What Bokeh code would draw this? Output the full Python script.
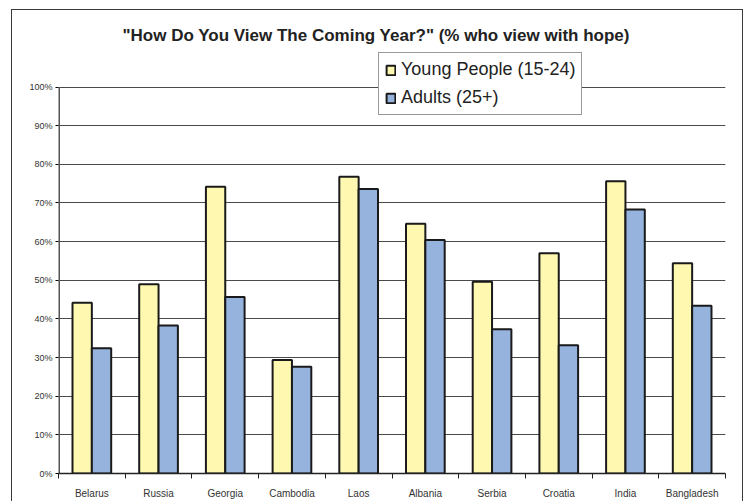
from bokeh.plotting import figure
from bokeh.models import (ColumnDataSource, Range1d, FixedTicker, NumeralTickFormatter,
                          Legend, LegendItem, InlineStyleSheet)
from bokeh.embed import file_html
from bokeh.resources import INLINE
import numpy as np

countries = ["Belarus", "Russia", "Georgia", "Cambodia", "Laos",
             "Albania", "Serbia", "Croatia", "India", "Bangladesh"]
young = [0.442, 0.490, 0.742, 0.294, 0.768, 0.646, 0.496, 0.570, 0.756, 0.544]
adults = [0.324, 0.383, 0.457, 0.276, 0.736, 0.604, 0.373, 0.332, 0.683, 0.434]
y_ticks = [0.0, 0.1, 0.2, 0.3, 0.4, 0.5, 0.6, 0.7, 0.8, 0.9, 1.0]
title_text = '"How Do You View The Coming Year?" (% who view with hope)'
young_label = "Young People (15-24)"
adult_label = "Adults (25+)"

FONT = "Liberation Sans"
W, H = 746, 501
# plot frame in page pixels; the frame runs a little above 100% so the legend fits inside
LEFT, RIGHT, TOP, BOTTOM = 58, 725, 50, 478
PX_PER_UNIT = 391.0          # height of 0..100% in pixels
y_top = (BOTTOM - TOP) / PX_PER_UNIT

centers = np.arange(len(countries)) + 0.5
edges = np.arange(len(countries) + 1).astype(float)

src = ColumnDataSource(dict(
    xy=centers - 0.145, xa=centers + 0.145, young=young, adults=adults,
))

# outer chart border drawn around the whole chart area
border_css = InlineStyleSheet(css="""
:host { position: relative; }
:host::after {
  content: ""; position: absolute; left: 11px; top: 9px; right: 3px; bottom: -5px;
  border: 1px solid #3a3a3a; pointer-events: none;
}
""")

p = figure(width=W, height=H, output_backend="svg", toolbar_location=None,
           x_range=Range1d(0, len(countries)), y_range=Range1d(0, y_top),
           min_border_left=LEFT, min_border_right=W - RIGHT,
           min_border_top=TOP, min_border_bottom=H - BOTTOM,
           title=title_text)
p.stylesheets = [border_css]
p.outline_line_color = None
p.background_fill_color = "white"
p.border_fill_color = "white"

p.title.align = "left"
p.title.offset = 122 - LEFT
p.title.text_font = FONT
p.title.text_font_size = "17px"
p.title.text_font_style = "bold"
p.title.text_color = "#222222"
p.title.standoff = 11

r_y = p.vbar(x="xy", top="young", width=0.29, source=src,
             fill_color="#FFF8B0", line_color="#1a1a1a", line_width=2)
r_a = p.vbar(x="xa", top="adults", width=0.29, source=src,
             fill_color="#95B3DC", line_color="#1a1a1a", line_width=2)

# x axis: labels at group centres, tick marks between groups
p.xaxis.ticker = FixedTicker(ticks=list(centers), minor_ticks=list(edges))
p.xaxis.major_label_overrides = {float(c): n for c, n in zip(centers, countries)}
p.xaxis.major_tick_out = 0
p.xaxis.major_tick_in = 0
p.xaxis.minor_tick_out = 5
p.xaxis.minor_tick_in = 0
p.xaxis.minor_tick_line_color = "#222222"
p.xaxis.major_label_standoff = 9
p.xaxis.major_label_text_font = FONT
p.xaxis.major_label_text_font_size = "10px"
p.xaxis.major_label_text_color = "#333333"
p.xaxis.axis_line_color = "#222222"
p.xaxis.axis_line_width = 1.5

# y axis in percent; its line is drawn only from 0% to 100%
p.yaxis.ticker = FixedTicker(ticks=y_ticks)
p.yaxis.formatter = NumeralTickFormatter(format="0%")
p.yaxis.major_tick_out = 3
p.yaxis.major_tick_in = 0
p.yaxis.minor_tick_line_color = None
p.yaxis.major_label_standoff = 3
p.yaxis.major_label_text_font = FONT
p.yaxis.major_label_text_font_size = "9px"
p.yaxis.major_label_text_color = "#333333"
p.yaxis.axis_line_color = None
p.segment(x0=0, y0=y_ticks[0], x1=0, y1=y_ticks[-1], line_color="#555555", line_width=3)

p.xgrid.grid_line_color = None
p.ygrid.ticker = FixedTicker(ticks=y_ticks[1:])
p.ygrid.grid_line_color = "#4a4a4a"
p.ygrid.grid_line_width = 1.2

legend = Legend(items=[LegendItem(label=young_label, renderers=[r_y]),
                       LegendItem(label=adult_label, renderers=[r_a])],
                location=(378 - LEFT, BOTTOM - 120),
                label_text_font=FONT, label_text_font_size="18px",
                label_text_color="#222222",
                glyph_width=11, glyph_height=12, label_standoff=5,
                label_height=21, spacing=7, padding=6, margin=0,
                border_line_color="#333333", border_line_width=1,
                background_fill_color="white", background_fill_alpha=1)
p.add_layout(legend, "center")

open("out.html", "w").write(file_html(p, INLINE))
